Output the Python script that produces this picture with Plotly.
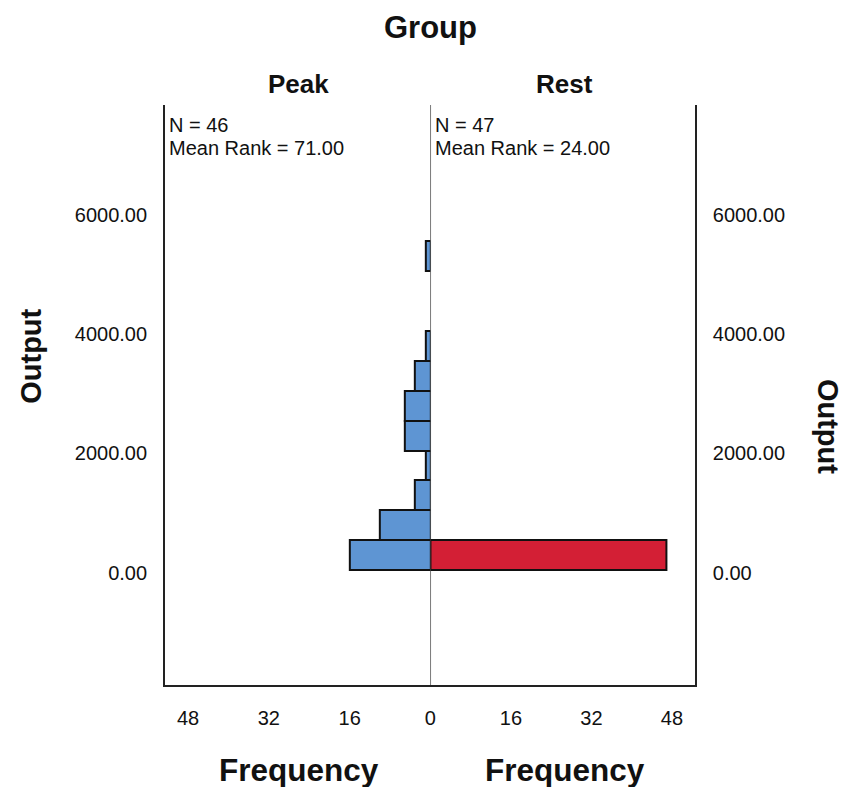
import plotly.graph_objects as go

# Data
bin_centers = [300, 800, 1300, 1800, 2300, 2800, 3300, 3800, 4300, 4800, 5300]
bin_width = 500
peak_freq = [16, 10, 3, 1, 5, 5, 3, 1, 0, 0, 1]
rest_freq = [47, 0, 0, 0, 0, 0, 0, 0, 0, 0, 0]
y_ticks = [0, 2000, 4000, 6000]
y_ticklabels = ["0.00", "2000.00", "4000.00", "6000.00"]
groups = ["Peak", "Rest"]
n_text = ["N = 46", "N = 47"]
rank_text = ["Mean Rank = 71.00", "Mean Rank = 24.00"]

W, H = 846, 787
FONT = "Liberation Sans, Arial, sans-serif"
blue = "#5E95D3"
red = "#D31F35"
DX = 3  # horizontal pixel correction

def px(x):
    return (x + DX) / W

def py(y):
    return 1 - y / H

left_dom = [px(163), px(430.5)]
right_dom = [px(430.5), px(697)]
y_dom = [py(685), py(105)]
xmax = 52.6
yrange = [-1875, 7833]

def nonzero(cats, vals):
    pairs = [(c, v) for c, v in zip(cats, vals) if v > 0]
    return [p[0] for p in pairs], [p[1] for p in pairs]

py_peak, px_peak = nonzero(bin_centers, peak_freq)
py_rest, px_rest = nonzero(bin_centers, rest_freq)

fig = go.Figure()
fig.add_trace(go.Bar(
    y=py_peak, x=px_peak, width=bin_width, orientation="h",
    marker=dict(color=blue, line=dict(color="#111111", width=2)),
    xaxis="x", yaxis="y", showlegend=False))
fig.add_trace(go.Bar(
    y=py_rest, x=px_rest, width=bin_width, orientation="h",
    marker=dict(color=red, line=dict(color="#111111", width=2)),
    xaxis="x2", yaxis="y2", showlegend=False))

tickfont = dict(family=FONT, size=20, color="#111111")
axline = dict(showgrid=False, zeroline=False, showline=True, linecolor="#222222",
              linewidth=1.5, ticks="", tickfont=tickfont)

fig.update_layout(
    width=W, height=H,
    margin=dict(l=0, r=0, t=0, b=0),
    paper_bgcolor="white", plot_bgcolor="white",
    bargap=0,
    xaxis=dict(domain=left_dom, range=[xmax, 0], tickvals=[0, 16, 32, 48],
               ticktext=["0", "16", "32", "48"], ticklabelstandoff=14, anchor="y", **axline),
    xaxis2=dict(domain=right_dom, range=[0, xmax], tickvals=[16, 32, 48],
                ticktext=["16", "32", "48"], ticklabelstandoff=14, anchor="y2", **axline),
    yaxis=dict(domain=y_dom, range=yrange, tickvals=y_ticks, ticktext=y_ticklabels,
               ticklabelstandoff=12, anchor="x", **axline),
    yaxis2=dict(domain=y_dom, range=yrange, tickvals=y_ticks, ticktext=y_ticklabels,
                ticklabelstandoff=12, anchor="x2", side="right", matches="y", **axline),
)

# center divider line
fig.add_shape(type="line", xref="x2", yref="paper", x0=0, x1=0,
              y0=y_dom[0], y1=y_dom[1], line=dict(color="#222222", width=1.2))

ann = []
def add(text, x, y, size, **kw):
    d = dict(text=text, x=px(x), y=py(y), xref="paper", yref="paper", showarrow=False,
             font=dict(family=FONT, size=size, color="#111111"),
             xanchor="center", yanchor="middle")
    d.update(kw)
    ann.append(d)

add("<b>Group</b>", 431, 28, 31)
for g, cx in zip(groups, [298, 566]):
    add(f"<b>{g}</b>", cx, 84, 26)
for n, r, lx in zip(n_text, rank_text, [165, 433]):
    add(n, lx, 125.5, 20, xanchor="left")
    add(r, lx, 148, 20, xanchor="left")
for cx in [298, 566]:
    add("<b>Frequency</b>", cx, 770, 31.5)
add("<b>Output</b>", 28, 356, 29, textangle=-90)
add("<b>Output</b>", 831, 426, 29, textangle=90)
fig.update_layout(annotations=ann)

fig.write_html("out.html")
